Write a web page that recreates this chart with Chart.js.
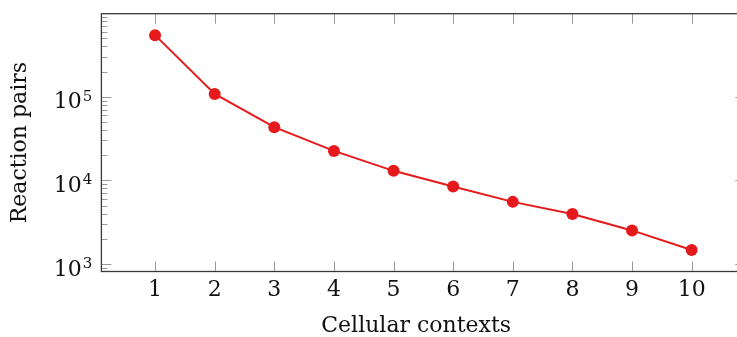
<!DOCTYPE html>
<html>
<head>
<meta charset="utf-8">
<script src="https://cdn.jsdelivr.net/npm/chart.js@4/dist/chart.umd.min.js"></script>
<style>
  html, body { margin: 0; padding: 0; background: #fff; overflow: hidden; }
  canvas { display: block; }
</style>
</head>
<body>
<canvas id="chart" width="737" height="337"></canvas>
<script>
// number of cellular contexts vs. reaction pairs
const contexts = [1, 2, 3, 4, 5, 6, 7, 8, 9, 10];
const reactionPairs = [545000, 108000, 43200, 22500, 13000, 8430, 5530, 3950, 2520, 1470];
const yDecades = [1e3, 1e4, 1e5];

// the axis box runs from 0.1 to 10.9; the page cuts it off a little before the right edge
const X_BOX_MAX = 10.9;

const FONT = "'DejaVu Serif', serif";
const RED = "#e41a1c";
const TEXT = "#111";

function noPadding(s) {
  s.paddingTop = 0; s.paddingBottom = 0; s.paddingLeft = 0; s.paddingRight = 0;
}

// pgfplots-like frame with inward ticks and 10^n labels
const framePlugin = {
  id: "frame",
  afterDraw(chart) {
    const { ctx, chartArea: a, scales } = chart;
    const x = scales.x, y = scales.y;
    const right = x.getPixelForValue(X_BOX_MAX);
    ctx.save();
    ctx.strokeStyle = "#9a9a9a";
    ctx.lineWidth = 1;
    ctx.beginPath();
    contexts.forEach((c) => {
      const px = Math.round(x.getPixelForValue(c)) + 0.5;
      ctx.moveTo(px, a.bottom); ctx.lineTo(px, a.bottom - 10);
      ctx.moveTo(px, a.top); ctx.lineTo(px, a.top + 10);
    });
    const lo = Math.floor(Math.log10(y.min)), hi = Math.ceil(Math.log10(y.max));
    for (let e = lo; e <= hi; e++) {
      for (let k = 1; k <= 9; k++) {
        const v = k * Math.pow(10, e);
        if (v < y.min || v > y.max) continue;
        const len = k === 1 ? 10 : 6;
        const py = Math.round(y.getPixelForValue(v)) + 0.5;
        ctx.moveTo(a.left, py); ctx.lineTo(a.left + len, py);
        ctx.moveTo(right, py); ctx.lineTo(right - len, py);
      }
    }
    ctx.stroke();
    ctx.strokeStyle = "#3a3a3a";
    ctx.lineWidth = 1.3;
    ctx.strokeRect(a.left, a.top, right - a.left, a.bottom - a.top);

    // y labels: "10" with a raised exponent
    ctx.fillStyle = TEXT;
    ctx.textBaseline = "alphabetic";
    ctx.textAlign = "left";
    yDecades.forEach((d) => {
      const py = y.getPixelForValue(d);
      const exp = String(Math.round(Math.log10(d)));
      ctx.font = "15px " + FONT;
      const ew = ctx.measureText(exp).width;
      ctx.font = "22px " + FONT;
      const bw = ctx.measureText("10").width;
      const r = a.left - 9;
      ctx.fillText("10", r - ew - 1 - bw, py + 11.6);
      ctx.font = "15px " + FONT;
      ctx.fillText(exp, r - ew, py + 4);
    });
    ctx.restore();
  }
};

new Chart(document.getElementById("chart"), {
  type: "line",
  data: {
    datasets: [{
      data: contexts.map((c, i) => ({ x: c, y: reactionPairs[i] })),
      borderColor: RED,
      backgroundColor: RED,
      borderWidth: 2,
      pointRadius: 6,
      pointBorderWidth: 0,
      tension: 0,
    }],
  },
  options: {
    responsive: false,
    animation: false,
    devicePixelRatio: 1,
    layout: { padding: { top: 13.7, right: 0, left: 0, bottom: 0 } },
    plugins: { legend: { display: false }, tooltip: { enabled: false } },
    scales: {
      x: {
        type: "linear",
        min: 0.1,
        max: 10.66,
        afterBuildTicks: (s) => { s.ticks = contexts.map((v) => ({ value: v })); },
        afterFit: (s) => { s.height = 65.5; noPadding(s); },
        grid: { display: false, drawTicks: false },
        border: { display: false },
        ticks: { color: TEXT, font: { family: FONT, size: 22 }, padding: 6, maxRotation: 0 },
        title: { display: true, text: "Cellular contexts", color: TEXT, font: { family: FONT, size: 22 }, padding: { top: 0, bottom: -2 } },
      },
      y: {
        type: "logarithmic",
        min: 813,
        max: 984000,
        afterBuildTicks: (s) => { s.ticks = yDecades.map((v) => ({ value: v })); },
        afterFit: (s) => { s.width = 101.4; noPadding(s); },
        grid: { display: false, drawTicks: false },
        border: { display: false },
        ticks: { display: false },
        title: { display: true, text: "Reaction pairs", color: TEXT, font: { family: FONT, size: 22 }, padding: { top: 7, bottom: 0 } },
      },
    },
  },
  plugins: [framePlugin],
});
</script>
</body>
</html>
